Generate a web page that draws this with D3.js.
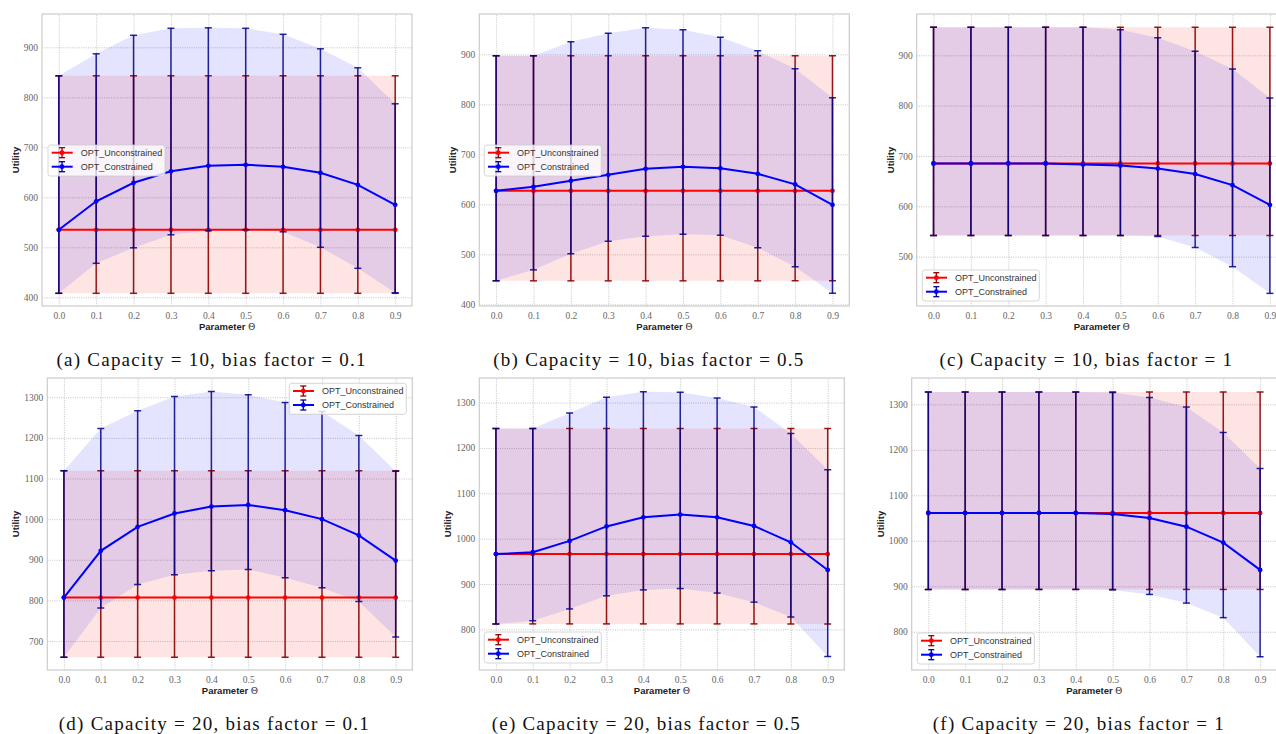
<!DOCTYPE html>
<html><head><meta charset="utf-8">
<script src="https://cdn.jsdelivr.net/npm/d3@7"></script>
<style>body{margin:0;background:#fff}</style>
</head><body><svg id="chart" width="1276" height="734"></svg>
<script>
// ---------- data ----------
const thetas = [0.0, 0.1, 0.2, 0.3, 0.4, 0.5, 0.6, 0.7, 0.8, 0.9];
const xTickLabels = ["0.0","0.1","0.2","0.3","0.4","0.5","0.6","0.7","0.8","0.9"];
const seriesNames = ["OPT_Unconstrained", "OPT_Constrained"];
const captions = [
  "(a) Capacity = 10, bias factor = 0.1",
  "(b) Capacity = 10, bias factor = 0.5",
  "(c) Capacity = 10, bias factor = 1",
  "(d) Capacity = 20, bias factor = 0.1",
  "(e) Capacity = 20, bias factor = 0.5",
  "(f) Capacity = 20, bias factor = 1"
];

// (a) capacity 10, bias 0.1
const uncMeanA = [535,535,535,535,535,535,535,535,535,535];
const uncLowA  = [408,408,408,408,408,408,408,408,408,408];
const uncHighA = [843,843,843,843,843,843,843,843,843,843];
const conMeanA = [535,592,629,652,663,665,661,649,625,585];
const conLowA  = [408,468,499,525,533,535,531,500,458,409];
const conHighA = [843,887,924,938,939,938,926,897,859,787];
const yTicksA  = [400,500,600,700,800,900];

// (b) capacity 10, bias 0.5
const uncMeanB = [627,627,627,627,627,627,627,627,627,627];
const uncLowB  = [447,447,447,447,447,447,447,447,447,447];
const uncHighB = [897,897,897,897,897,897,897,897,897,897];
const conMeanB = [627,635,647,659,671,675,672,661,640,599];
const conLowB  = [447,469,501,526,536,540,538,513,475,422];
const conHighB = [897,897,925,942,953,949,934,907,871,813];
const yTicksB  = [400,500,600,700,800,900];

// (c) capacity 10, bias 1
const uncMeanC = [685,685,685,685,685,685,685,685,685,685];
const uncLowC  = [542,542,542,542,542,542,542,542,542,542];
const uncHighC = [956,956,956,956,956,956,956,956,956,956];
const conMeanC = [685,685,685,685,683,681,675,664,642,603];
const conLowC  = [542,542,542,542,542,542,540,518,480,427];
const conHighC = [956,956,956,956,956,951,935,908,873,815];
const yTicksC  = [500,600,700,800,900];

// (d) capacity 20, bias 0.1
const uncMeanD = [807,807,807,807,807,807,807,807,807,807];
const uncLowD  = [660,660,660,660,660,660,660,660,660,660];
const uncHighD = [1119,1119,1119,1119,1119,1119,1119,1119,1119,1119];
const conMeanD = [807,922,981,1014,1031,1035,1022,1000,960,898];
const conLowD  = [660,781,839,863,873,876,856,831,797,710];
const conHighD = [1119,1223,1267,1302,1314,1306,1287,1265,1206,1118];
const yTicksD  = [700,800,900,1000,1100,1200,1300];

// (e) capacity 20, bias 0.5
const uncMeanE = [966,966,966,966,966,966,966,966,966,966];
const uncLowE  = [812,812,812,812,812,812,812,812,812,812];
const uncHighE = [1243,1243,1243,1243,1243,1243,1243,1243,1243,1243];
const conMeanE = [966,970,995,1027,1047,1053,1047,1028,992,931];
const conLowE  = [812,819,845,874,887,890,880,860,827,740];
const conHighE = [1243,1243,1277,1312,1324,1323,1310,1290,1232,1152];
const yTicksE  = [800,900,1000,1100,1200,1300];

// (f) capacity 20, bias 1
const uncMeanF = [1061,1061,1061,1061,1061,1061,1061,1061,1061,1061];
const uncLowF  = [893,893,893,893,893,893,893,893,893,893];
const uncHighF = [1327,1327,1327,1327,1327,1327,1327,1327,1327,1327];
const conMeanF = [1061,1061,1061,1061,1061,1059,1050,1031,996,936];
const conLowF  = [893,893,893,893,893,892,882,863,831,745];
const conHighF = [1327,1327,1327,1327,1327,1326,1315,1294,1238,1159];
const yTicksF  = [800,900,1000,1100,1200,1300];

// ---------- layout ----------
const panels = [
  {unc:[uncMeanA,uncLowA,uncHighA], con:[conMeanA,conLowA,conHighA], ticks:yTicksA,
   left:42, right:412, top:14, bottom:306, yDom:[382.6,966.6], legend:[48,145], capW:309},
  {unc:[uncMeanB,uncLowB,uncHighB], con:[conMeanB,conLowB,conHighB], ticks:yTicksB,
   left:479.3, right:849.3, top:14, bottom:306, yDom:[396.7,980.7], legend:[484.3,145], capW:310},
  {unc:[uncMeanC,uncLowC,uncHighC], con:[conMeanC,conLowC,conHighC], ticks:yTicksC,
   left:916.7, right:1286.7, top:14, bottom:306, yDom:[401.9,982.1], legend:[922.3,270], capW:292.6},
  {unc:[uncMeanD,uncLowD,uncHighD], con:[conMeanD,conLowD,conHighD], ticks:yTicksD,
   left:47.3, right:412.3, top:378, bottom:670, yDom:[628.6,1347.5], legend:[289.3,383.3], capW:310},
  {unc:[uncMeanE,uncLowE,uncHighE], con:[conMeanE,conLowE,conHighE], ticks:yTicksE,
   left:479.3, right:844.3, top:378, bottom:670, yDom:[710.4,1354.2], legend:[484.3,632], capW:308},
  {unc:[uncMeanF,uncLowF,uncHighF], con:[conMeanF,conLowF,conHighF], ticks:yTicksF,
   left:911.7, right:1276.7, top:378, bottom:670, yDom:[715.9,1357.8], legend:[917.3,633], capW:291}
];

const svg = d3.select("#chart");
svg.append("rect").attr("width",1276).attr("height",734).attr("fill","#fff");

const serif = "'Liberation Serif','DejaVu Serif',serif";
const sans = "'Liberation Sans','DejaVu Sans',sans-serif";
const styles = [
  {line:"#ff0000", bar:"#8b0000", fill:"#ff0000"},
  {line:"#0000ff", bar:"#00008b", fill:"#0000ff"}
];

panels.forEach((p, pi) => {
  const g = svg.append("g");
  const x = d3.scaleLinear().domain([-0.045, 0.945]).range([p.left, p.right]);
  const y = d3.scaleLinear().domain(p.yDom).range([p.bottom, p.top]);
  const clipId = "clip" + pi;
  g.append("clipPath").attr("id", clipId).append("rect")
    .attr("x", p.left).attr("y", p.top).attr("width", p.right - p.left).attr("height", p.bottom - p.top);

  // x axis + grid
  const gx = g.append("g").attr("transform", `translate(0,${p.bottom})`)
    .call(d3.axisBottom(x).tickValues(thetas).tickFormat((d,i)=>xTickLabels[i]).tickSize(-(p.bottom-p.top)));
  gx.attr("font-family", serif);
  gx.select(".domain").remove();
  gx.selectAll(".tick line").attr("stroke","#b5b5b5").attr("stroke-width",0.8).attr("stroke-dasharray","1,1.3");
  gx.selectAll(".tick text").attr("y",6).attr("fill","#666").style("font-family",serif).style("font-size","9.5px");

  // y axis + grid
  const gy = g.append("g").attr("transform", `translate(${p.left},0)`)
    .call(d3.axisLeft(y).tickValues(p.ticks).tickFormat(d3.format("d")).tickSize(-(p.right-p.left)));
  gy.attr("font-family", serif);
  gy.select(".domain").remove();
  gy.selectAll(".tick line").attr("stroke","#b5b5b5").attr("stroke-width",0.8).attr("stroke-dasharray","1,1.3");
  gy.selectAll(".tick text").attr("x",-4).attr("fill","#666").style("font-family",serif).style("font-size","9.5px");

  const plot = g.append("g").attr("clip-path", `url(#${clipId})`);

  // fills
  [p.unc, p.con].forEach((s, si) => {
    const area = d3.area().x((d,i)=>x(thetas[i])).y0((d,i)=>y(s[1][i])).y1((d,i)=>y(s[2][i]));
    plot.append("path").datum(s[0]).attr("d", area).attr("fill", styles[si].fill).attr("fill-opacity", 0.105);
  });

  // error bars + lines
  [p.unc, p.con].forEach((s, si) => {
    const st = styles[si];
    const eb = plot.append("g").attr("stroke", st.bar).attr("stroke-width", 1.5).attr("stroke-opacity", si ? 0.85 : 0.9);
    thetas.forEach((t, i) => {
      const xx = x(t), y0 = y(s[1][i]), y1 = y(s[2][i]);
      eb.append("line").attr("x1",xx).attr("x2",xx).attr("y1",y0).attr("y2",y1);
      eb.append("line").attr("x1",xx-3.5).attr("x2",xx+3.5).attr("y1",y0).attr("y2",y0);
      eb.append("line").attr("x1",xx-3.5).attr("x2",xx+3.5).attr("y1",y1).attr("y2",y1);
    });
    const line = d3.line().x((d,i)=>x(thetas[i])).y(d=>y(d));
    plot.append("path").datum(s[0]).attr("d", line).attr("fill","none").attr("stroke", st.line).attr("stroke-width", 2);
    plot.selectAll(null).data(s[0]).enter().append("circle")
      .attr("cx",(d,i)=>x(thetas[i])).attr("cy",d=>y(d)).attr("r",2.4).attr("fill",st.line);
  });

  // frame
  g.append("rect").attr("x",p.left).attr("y",p.top).attr("width",p.right-p.left).attr("height",p.bottom-p.top)
    .attr("fill","none").attr("stroke","#cccccc").attr("stroke-width",1.2);

  // axis labels
  const off = p.ticks[p.ticks.length-1] >= 1000 ? 28 : 23;
  g.append("text").attr("transform", `translate(${p.left-off},${(p.top+p.bottom)/2}) rotate(-90)`)
    .attr("text-anchor","middle").attr("fill","#222").style("font-family",sans).style("font-weight","bold").style("font-size","9.5px")
    .text("Utility");
  const xl = g.append("text").attr("x",(p.left+p.right)/2).attr("y",p.bottom+23.5).attr("text-anchor","middle")
    .attr("fill","#222").style("font-family",sans).style("font-size","9.5px");
  xl.append("tspan").style("font-weight","bold").text("Parameter ");
  xl.append("tspan").style("font-family",serif).text("Θ");

  // legend
  const lg = g.append("g").attr("transform", `translate(${p.legend[0]},${p.legend[1]})`);
  lg.append("rect").attr("width",117).attr("height",31).attr("rx",2.5)
    .attr("fill","#fff").attr("fill-opacity",0.8).attr("stroke","#cccccc").attr("stroke-width",0.8);
  seriesNames.forEach((name, si) => {
    const st = styles[si];
    const cy = 7.7 + si*14;
    const h = lg.append("g");
    h.append("line").attr("x1",14).attr("x2",14).attr("y1",cy-5).attr("y2",cy+5).attr("stroke",st.bar).attr("stroke-width",1.3);
    h.append("line").attr("x1",11).attr("x2",17).attr("y1",cy-5).attr("y2",cy-5).attr("stroke",st.bar).attr("stroke-width",1.3);
    h.append("line").attr("x1",11).attr("x2",17).attr("y1",cy+5).attr("y2",cy+5).attr("stroke",st.bar).attr("stroke-width",1.3);
    h.append("line").attr("x1",3.7).attr("x2",24.7).attr("y1",cy).attr("y2",cy).attr("stroke",st.line).attr("stroke-width",2);
    h.append("circle").attr("cx",14).attr("cy",cy).attr("r",2.4).attr("fill",st.line);
    lg.append("text").attr("x",32.7).attr("y",cy+3.2).attr("fill","#333")
      .style("font-family",sans).style("font-size","9px").text(name);
  });

  // caption
  const capY = p.top === 14 ? 366 : 730;
  g.append("text").attr("x",(p.left+p.right)/2 - 16).attr("y",capY).attr("text-anchor","middle")
    .attr("fill","#111").style("font-family",serif).style("font-size","19px")
    .attr("textLength", p.capW).attr("lengthAdjust","spacing")
    .text(captions[pi]);
});
</script>
</body></html>
